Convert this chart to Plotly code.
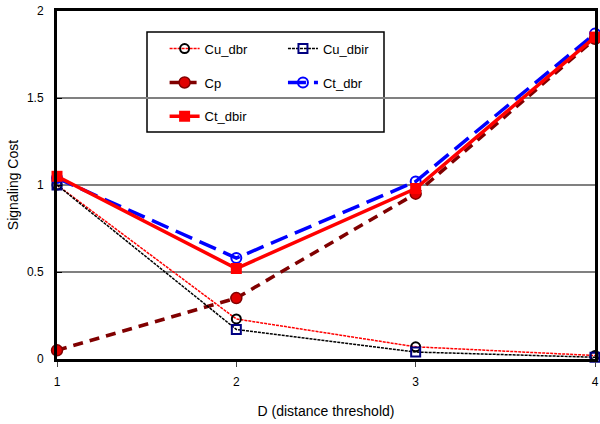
import plotly.graph_objects as go

x_vals = [1, 2, 3, 4]
cu_dbr = [1.00, 0.23, 0.07, 0.02]
cu_dbir = [1.00, 0.17, 0.04, 0.01]
cp = [0.05, 0.35, 0.95, 1.84]
ct_dbr = [1.04, 0.58, 1.02, 1.87]
ct_dbir = [1.05, 0.52, 0.98, 1.85]

x_ticks = [1, 2, 3, 4]
y_ticks = [0, 0.5, 1, 1.5, 2]
y_tick_text = ["0", "0.5", "1", "1.5", "2"]

fig = go.Figure()

fig.add_trace(go.Scatter(
    x=x_vals, y=cu_dbr, name="Cu_dbr", mode="lines+markers",
    line=dict(color="#FF0000", width=1.5, dash="3px,1px"),
    marker=dict(symbol="circle-open", size=9, color="black", line=dict(width=2)),
    legend="legend", legendgroup="a", cliponaxis=False))
fig.add_trace(go.Scatter(
    x=x_vals, y=cp, name="Cp", mode="lines+markers",
    line=dict(color="#800000", width=3.5, dash="10px,7px"),
    marker=dict(symbol="circle", size=11, color="#E00000", line=dict(color="#800000", width=1.5)),
    legend="legend", legendgroup="b", cliponaxis=False))
fig.add_trace(go.Scatter(
    x=x_vals, y=cu_dbir, name="Cu_dbir", mode="lines+markers",
    line=dict(color="black", width=1.5, dash="3px,1px"),
    marker=dict(symbol="square-open", size=9, color="#000080", line=dict(width=2)),
    legend="legend2", legendgroup="c", cliponaxis=False))
fig.add_trace(go.Scatter(
    x=x_vals, y=ct_dbr, name="Ct_dbr", mode="lines+markers",
    line=dict(color="#0000FF", width=3.5, dash="18px,8px"),
    marker=dict(symbol="circle-open", size=10, color="#0000FF", line=dict(width=2)),
    legend="legend2", legendgroup="d", cliponaxis=False))
fig.add_trace(go.Scatter(
    x=x_vals, y=ct_dbir, name="Ct_dbir", mode="lines+markers",
    line=dict(color="#FF0000", width=3.5),
    marker=dict(symbol="square", size=11, color="#FF0000"),
    legend="legend", legendgroup="e", cliponaxis=False))

fig.update_layout(
    width=600, height=424,
    margin=dict(l=57, r=5, t=11, b=65, autoexpand=False),
    paper_bgcolor="white", plot_bgcolor="white",
    font=dict(family="Liberation Sans, Arial, sans-serif", size=12, color="black"),
    showlegend=True,
    legend=dict(x=0.2, y=0.935, xanchor="left", yanchor="top",
                bgcolor="rgba(0,0,0,0)", traceorder="grouped", tracegroupgap=14,
                font=dict(size=13)),
    legend2=dict(x=0.42, y=0.935, xanchor="left", yanchor="top",
                 bgcolor="rgba(0,0,0,0)", traceorder="grouped", tracegroupgap=14,
                 font=dict(size=13)),
    shapes=[dict(type="rect", xref="paper", yref="paper",
                 x0=(147 - 57) / 538, x1=(384 - 57) / 538,
                 y0=(359 - 132) / 348, y1=(359 - 32) / 348,
                 line=dict(color="black", width=1.5), fillcolor="white", layer="below")],
    xaxis=dict(range=[1, 4], tickvals=x_ticks, ticks="outside", ticklen=5,
               ticklabelstandoff=5, ticklabeloverflow="allow",
               showline=True, linecolor="black", linewidth=3, mirror=True,
               showgrid=False, zeroline=False, automargin=False,
               title=dict(text="D (distance threshold)", standoff=18)),
    yaxis=dict(range=[0, 2], tickvals=y_ticks, ticktext=y_tick_text,
               ticks="inside", ticklen=5, tickcolor="black", ticklabelstandoff=8,
               ticklabeloverflow="allow",
               showline=True, linecolor="black", linewidth=3, mirror=True,
               showgrid=True, gridcolor="#808080", gridwidth=2, zeroline=False,
               automargin=False,
               title=dict(text="Signaling Cost", standoff=6)),
)

fig.write_html("out.html", config={"displayModeBar": False},
               post_script="document.body.style.margin='0';document.body.style.overflow='hidden';")
